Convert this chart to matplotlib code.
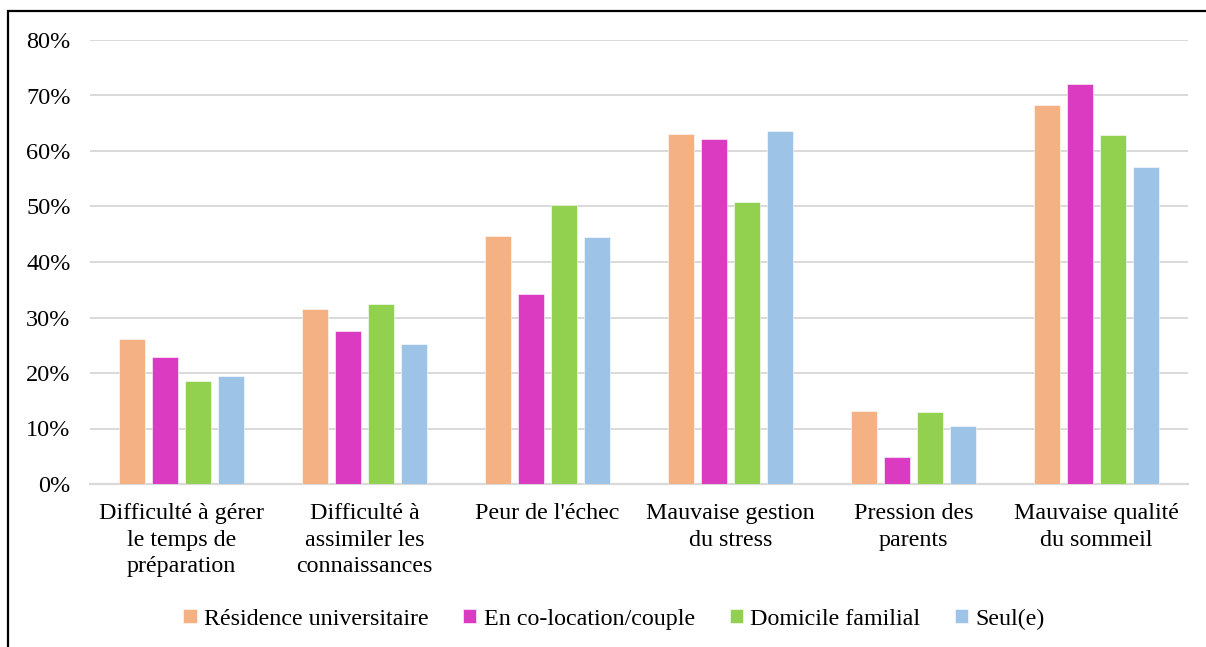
import matplotlib
matplotlib.use("Agg")
import matplotlib.pyplot as plt
import numpy as np
from matplotlib.patches import Rectangle
from matplotlib.ticker import PercentFormatter

categories = ["Difficulté à gérer\nle temps de\npréparation",
              "Difficulté à\nassimiler les\nconnaissances",
              "Peur de l'échec",
              "Mauvaise gestion\ndu stress",
              "Pression des\nparents",
              "Mauvaise qualité\ndu sommeil"]
series_names = ["Résidence universitaire", "En co-location/couple", "Domicile familial", "Seul(e)"]
residence = [26.2, 31.5, 44.7, 63.1, 13.1, 68.3]
colocation = [22.8, 27.6, 34.2, 62.2, 4.8, 72.0]
domicile = [18.5, 32.4, 50.2, 50.9, 13.0, 62.8]
seul = [19.5, 25.3, 44.5, 63.6, 10.4, 57.1]
colors = ["#F4B183", "#DA3BC0", "#92D050", "#9DC3E6"]
yticks = [0, 10, 20, 30, 40, 50, 60, 70, 80]

plt.rcParams['font.family'] = ['Liberation Serif', 'DejaVu Serif']

fig = plt.figure(figsize=(12.06, 6.47), dpi=100)
ax = fig.add_axes([90/1206, 1-484/647, (1188-90)/1206, (484-40)/647])

x = np.arange(len(categories))
step = 0.18
width = 0.142
data = [residence, colocation, domicile, seul]
for i, (vals, name, c) in enumerate(zip(data, series_names, colors)):
    ax.bar(x + (i - 1.5) * step, vals, width=width, color=c, label=name,
           edgecolor="white", linewidth=0.4, zorder=3)

ax.set_xlim(-0.5, len(categories) - 0.5)
ax.set_ylim(0, 80)
ax.set_yticks(yticks)
ax.yaxis.set_major_formatter(PercentFormatter(decimals=0))
ax.grid(axis='y', color='#D9D9D9', linewidth=1.4, zorder=0)
ax.set_axisbelow(True)
for s in ['top', 'right', 'left']:
    ax.spines[s].set_visible(False)
ax.spines['bottom'].set_color('#D9D9D9')
ax.spines['bottom'].set_linewidth(1.6)
ax.set_xticks(x)
ax.set_xticklabels(categories, fontsize=17.3, linespacing=1.32)
ax.tick_params(axis='x', length=0, pad=14)
ax.tick_params(axis='y', length=0, pad=14, labelsize=17.5)

leg = fig.legend(loc='center', bbox_to_anchor=(614/1206, 1-619/647), ncol=4,
                 frameon=False, fontsize=17.3, handlelength=0.55, handleheight=0.55,
                 handletextpad=0.3, columnspacing=1.45)

# frame border (left and top visible)
fig.add_artist(Rectangle((8/1206, -0.05), 1.1, 1 - 11/647 + 0.05,
                         transform=fig.transFigure, fill=False,
                         edgecolor='black', linewidth=1.6))

fig.savefig("out.png", dpi=100)
